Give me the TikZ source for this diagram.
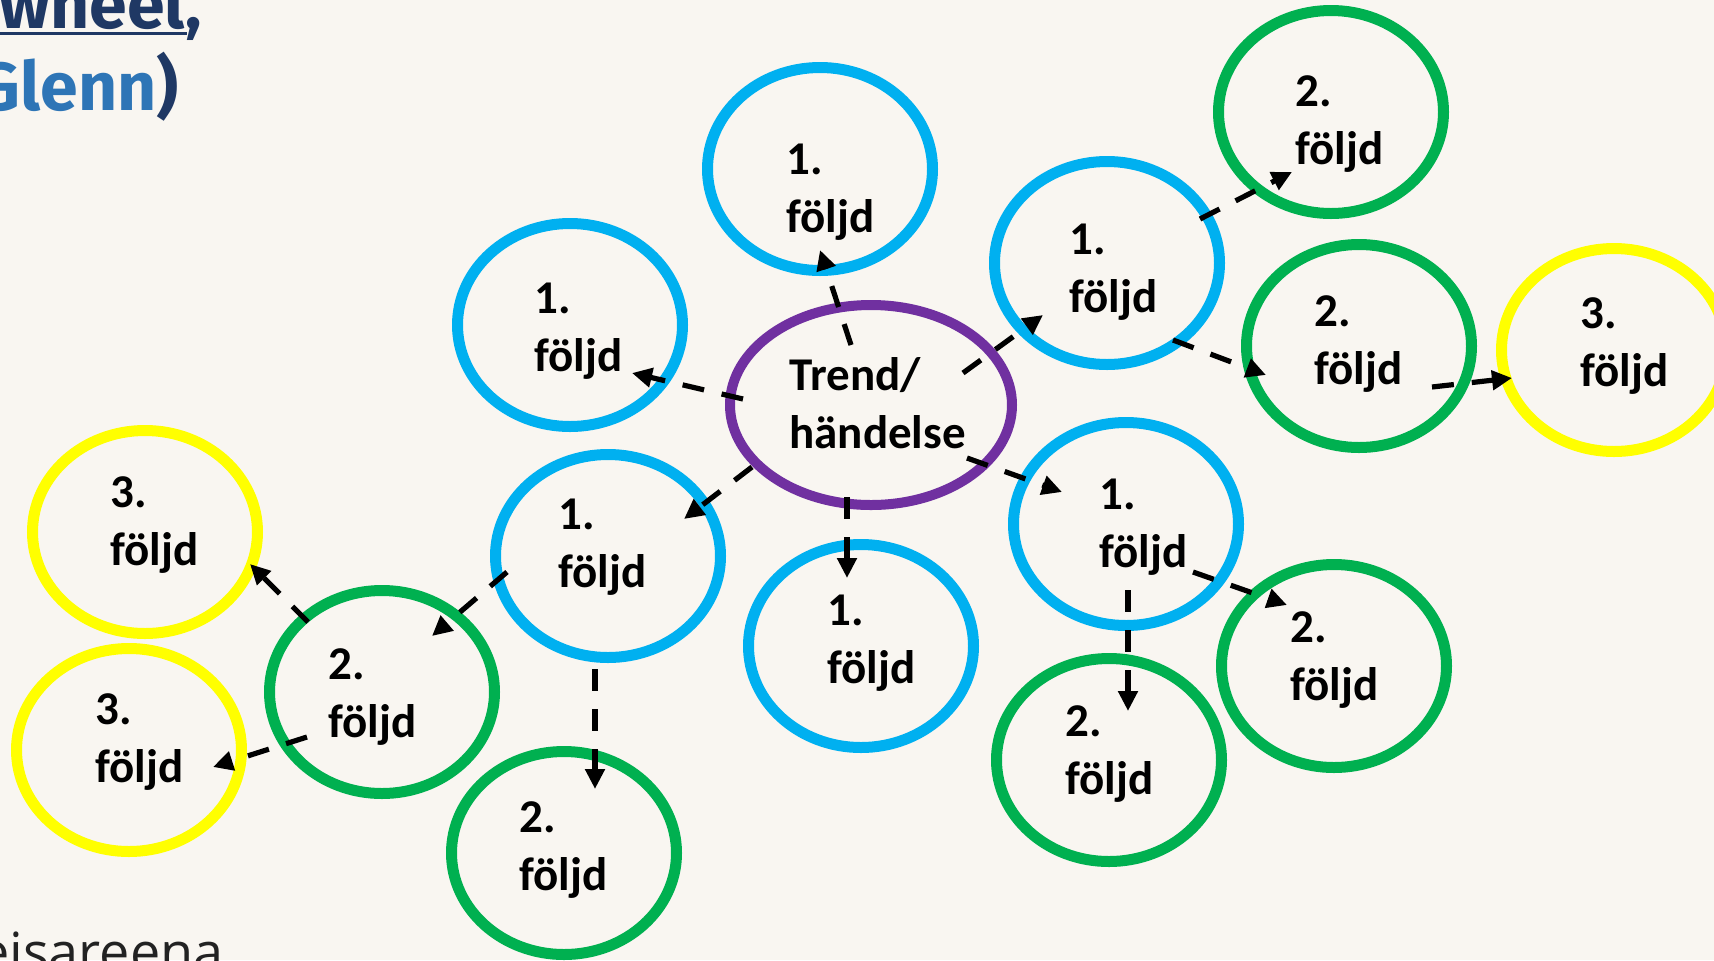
\documentclass[tikz,border=0pt]{standalone}
\usepackage{fontspec}
\setmainfont{Carlito}
\newfontfamily\titlefont{Fira Sans}
\newfontfamily\footfont{Open Sans}
\usetikzlibrary{calc,arrows.meta,shapes.geometric}
\definecolor{bg}{HTML}{F9F6F1}
\definecolor{cblue}{HTML}{00B0F0}
\definecolor{cgreen}{HTML}{00B050}
\definecolor{cyellow}{HTML}{FFFF00}
\definecolor{cpurple}{HTML}{7030A0}
\definecolor{navy}{HTML}{1F3864}
\definecolor{tblue}{HTML}{2E75B6}
\definecolor{footgray}{HTML}{222222}
\begin{document}
\begin{tikzpicture}[x=0.5pt,y=-0.5pt,
  ring/.style={ellipse,draw=#1,line width=5.5pt,minimum width=112.5pt,minimum height=101.5pt,inner sep=0pt,outer sep=0pt},
  hub/.style={ellipse,draw=cpurple,line width=5pt,minimum width=141pt,minimum height=100pt,inner sep=0pt,outer sep=0pt},
  lbl/.style={font=\bfseries\fontsize{23.5}{29}\selectfont,align=left,inner sep=0pt,anchor=north west},
  arr/.style={line width=2.6pt,dash pattern=on 11pt off 9pt,-{Triangle[length=10pt,width=9.5pt]}},
  ttl/.style={font=\titlefont\bfseries\fontsize{34}{40}\selectfont,text=navy,anchor=base east,inner sep=0pt}
]
\useasboundingbox (0,0) rectangle (1714,960);
\fill[bg] (0,0) rectangle (1714,960);
\clip (0,0) rectangle (1714,960);

% title fragments
\node[ttl] (w) at (202,28) {wheel,};
\draw[navy,line width=1.5pt] (0,33) -- (187,33);
\node[ttl] (gl) at (179,110) {\textcolor{tblue}{Glenn})};
\node[font=\footfont\fontsize{27}{32}\selectfont,text=footgray,anchor=base east,inner sep=0pt] (ft) at (224,971) {eisareena};

% ellipses
\node[hub] (c) at (871,405) {};
\node[ring=cblue] (b1) at (820,169) {};
\node[ring=cblue] (b2) at (570,325) {};
\node[ring=cblue] (b3) at (1107,263) {};
\node[ring=cblue] (b4) at (1126,524) {};
\node[ring=cblue] (b5) at (861,646) {};
\node[ring=cblue] (b6) at (608,556) {};
\node[ring=cgreen] (g1) at (1331,112) {};
\node[ring=cgreen] (g2) at (1359,346) {};
\node[ring=cgreen] (g3) at (1334,666) {};
\node[ring=cgreen] (g4) at (1109,760) {};
\node[ring=cgreen] (g5) at (564,853) {};
\node[ring=cgreen] (g6) at (382,692) {};
\node[ring=cyellow] (y1) at (1614,350) {};
\node[ring=cyellow] (y2) at (145,532) {};
\node[ring=cyellow] (y3) at (129,750) {};

% labels
\node[lbl] (tc) at ($(c)+(-82,-55)$) {\rule{0pt}{20pt}Trend/\\händelse};
\node[lbl] (tb1) at ($(b1)+(-34,-35)$) {\rule{0pt}{20pt}1.\\följd};
\node[lbl] (tb2) at ($(b2)+(-36,-52)$) {\rule{0pt}{20pt}1.\\följd};
\node[lbl] (tb3) at ($(b3)+(-38,-49)$) {\rule{0pt}{20pt}1.\\följd};
\node[lbl] (tb4) at ($(b4)+(-27,-55)$) {\rule{0pt}{20pt}1.\\följd};
\node[lbl] (tb5) at ($(b5)+(-34,-61)$) {\rule{0pt}{20pt}1.\\följd};
\node[lbl] (tb6) at ($(b6)+(-50,-67)$) {\rule{0pt}{20pt}1.\\följd};
\node[lbl] (tg1) at ($(g1)+(-36,-46)$) {\rule{0pt}{20pt}2.\\följd};
\node[lbl] (tg2) at ($(g2)+(-45,-60)$) {\rule{0pt}{20pt}2.\\följd};
\node[lbl] (tg3) at ($(g3)+(-44,-64)$) {\rule{0pt}{20pt}2.\\följd};
\node[lbl] (tg4) at ($(g4)+(-44,-64)$) {\rule{0pt}{20pt}2.\\följd};
\node[lbl] (tg5) at ($(g5)+(-45,-61)$) {\rule{0pt}{20pt}2.\\följd};
\node[lbl] (tg6) at ($(g6)+(-54,-53)$) {\rule{0pt}{20pt}2.\\följd};
\node[lbl] (ty1) at ($(y1)+(-34,-62)$) {\rule{0pt}{20pt}3.\\följd};
\node[lbl] (ty2) at ($(y2)+(-35,-65)$) {\rule{0pt}{20pt}3.\\följd};
\node[lbl] (ty3) at ($(y3)+(-34,-66)$) {\rule{0pt}{20pt}3.\\följd};

% arrows
\draw[arr] ($(c)+(-20,-60)$) -- ($(b1)+(0,81)$);
\draw[arr] ($(c)+(-128,-6)$) -- ($(b2)+(62,48)$);
\draw[arr] ($(c)+(92,-32)$) -- ($(b3)+(-64,52)$);
\draw[arr] ($(c)+(96,53)$) -- ($(b4)+(-64,-32)$);
\draw[arr] ($(c)+(-24,92)$) -- ($(b5)+(-14,-68)$);
\draw[arr] ($(c)+(-119,62)$) -- ($(b6)+(76,-37)$);
\draw[arr] ($(b6)+(-101,16)$) -- ($(g6)+(50,-56)$);
\draw[arr] ($(b6)+(-13,113)$) -- ($(g5)+(31,-64)$);
\draw[arr] ($(g6)+(-74,-70)$) -- ($(y2)+(105,32)$);
\draw[arr] ($(g6)+(-75,45)$) -- ($(y3)+(84,17)$);
\draw[arr] ($(b3)+(93,-44)$) -- ($(g1)+(-39,60)$);
\draw[arr] ($(b3)+(66,77)$) -- ($(g2)+(-93,29)$);
\draw[arr] ($(g2)+(73,41)$) -- ($(y1)+(-102,28)$);
\draw[arr] ($(b4)+(67,48)$) -- ($(g3)+(-47,-61)$);
\draw[arr] ($(b4)+(2,66)$) -- ($(g4)+(19,-49)$);
\end{tikzpicture}
\end{document}
